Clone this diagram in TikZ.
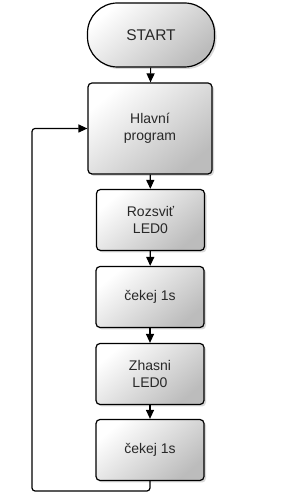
\documentclass[tikz,border=0pt]{standalone}
\usepackage{fontspec}
\setmainfont{Liberation Sans}
\usetikzlibrary{positioning,arrows.meta,shadows}
\definecolor{BoxGray}{RGB}{188,188,188}
\definecolor{TextGray}{RGB}{40,40,40}

\begin{document}
\begin{tikzpicture}[x=1pt,y=1pt,
    block/.style={draw=black,line width=1.2pt,rounded corners=4pt,
        top color=white,bottom color=BoxGray,shading angle=40,
        drop shadow={shadow xshift=2pt,shadow yshift=-2pt,opacity=0.3},
        text=TextGray,align=center,inner sep=0pt,
        font=\fontsize{14}{16.7}\selectfont,
        minimum width=108pt,minimum height=61pt},
    terminal/.style={block,rounded corners=30pt,font=\fontsize{15.5}{17}\selectfont,
        minimum width=127pt,minimum height=64pt},
    flow/.style={-{Triangle[length=9pt,width=8pt]},line width=1.2pt}]
    \useasboundingbox (0,0) rectangle (283,500);
    % nodes
    \node[terminal] (start) at (151,465) {START};
    \node[block,minimum width=124pt,minimum height=91pt] (main) at (150,371.5) {Hlavní\\program};
    \node[block] (ledon) at (150.5,280) {Rozsviť\\LED0};
    \node[block] (waitA) at (150,203) {čekej 1s};
    \node[block] (ledoff) at (150,126) {Zhasni\\LED0};
    \node[block] (waitB) at (150,50) {čekej 1s};
    \coordinate (loopcorner) at (32,9);
    % connectors
    \draw[flow] (start) -- (main);
    \draw[flow] (main) -- (ledon);
    \draw[flow] (ledon) -- (waitA);
    \draw[flow] (waitA) -- (ledoff);
    \draw[flow] (ledoff) -- (waitB);
    \draw[flow,rounded corners=3pt] (waitB.south) |- (loopcorner) |- (main.west);
\end{tikzpicture}
\end{document}
